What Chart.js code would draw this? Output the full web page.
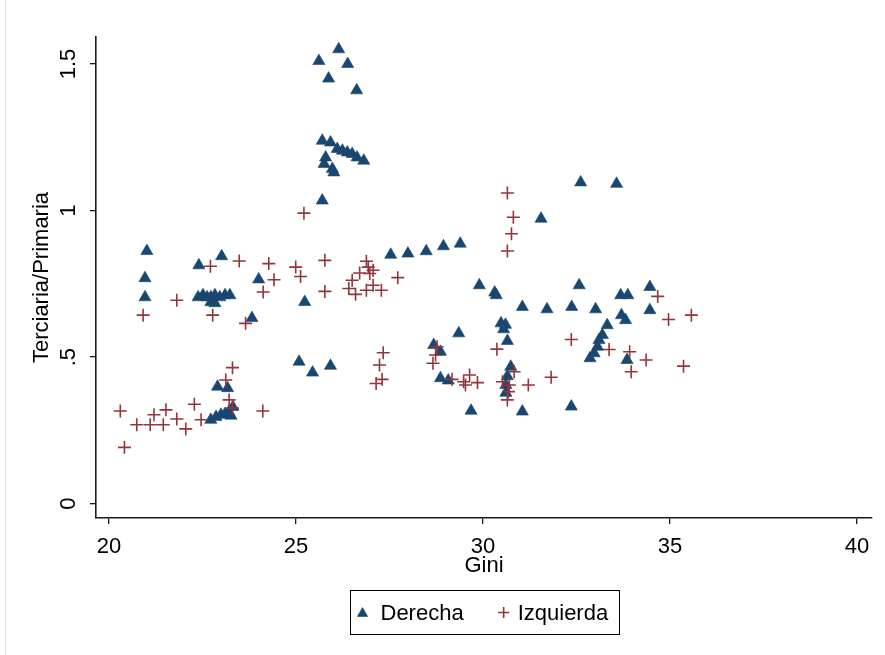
<!DOCTYPE html>
<html>
<head>
<meta charset="utf-8">
<script src="https://cdn.jsdelivr.net/npm/chart.js@4/dist/chart.umd.min.js"></script>
<style>
  html, body { margin: 0; padding: 0; background: #ffffff; }
  #wrap { width: 885px; height: 655px; position: relative; }
</style>
</head>
<body>
<div id="wrap"><canvas id="c" width="885" height="655"></canvas></div>
<script>
// Gini index vs. tertiary/primary ratio, by government orientation
const seriesNames = ['Derecha', 'Izquierda'];

const derechaGini = [
  25.61, 26.14, 26.38, 25.87, 26.62,
  25.70, 25.92, 26.10, 26.24, 26.37, 26.50, 26.63, 26.81, 25.79, 25.75, 25.97, 26.01, 25.70,
  21.01, 20.96, 20.96, 22.40, 23.01, 24.00, 23.82,
  22.38, 22.51, 22.62, 22.72, 22.83, 22.96, 23.10, 23.23, 22.72, 22.83,
  22.90, 23.17, 22.72, 22.86, 22.99, 23.10, 23.20, 23.31, 23.26,
  25.23, 25.08, 25.44, 25.92,
  27.53, 27.99, 28.48, 28.94, 29.39,
  29.90, 30.35, 30.31,
  29.35, 28.68, 28.86, 28.86, 29.07, 29.68,
  30.48, 30.60, 30.55, 30.65,
  30.74, 30.65, 30.61, 30.61, 31.05, 32.36,
  32.61, 33.57, 31.55,
  31.05, 31.71, 32.37, 33.01, 32.57,
  34.46, 33.68, 33.87, 34.46, 33.70, 33.81,
  33.32, 33.19, 33.10, 33.06, 32.97, 32.86, 33.85
];
const derechaRatio = [
  1.51, 1.55, 1.50, 1.45, 1.41,
  1.238, 1.232, 1.210, 1.204, 1.198, 1.193, 1.181, 1.170, 1.181, 1.159, 1.142, 1.130, 1.034,
  0.862, 0.769, 0.704, 0.813, 0.844, 0.765, 0.633,
  0.704, 0.711, 0.704, 0.704, 0.711, 0.704, 0.711, 0.711, 0.687, 0.684,
  0.399, 0.394, 0.286, 0.296, 0.303, 0.306, 0.313, 0.330, 0.300,
  0.688, 0.484, 0.447, 0.470,
  0.849, 0.853, 0.861, 0.878, 0.887,
  0.745, 0.711, 0.720,
  0.581, 0.541, 0.518, 0.428, 0.420, 0.317,
  0.615, 0.610, 0.595, 0.555,
  0.467, 0.435, 0.405, 0.378, 0.314, 0.331,
  1.096, 1.091, 0.972,
  0.671, 0.663, 0.671, 0.663, 0.745,
  0.739, 0.711, 0.711, 0.660, 0.643, 0.626,
  0.609, 0.575, 0.558, 0.535, 0.513, 0.496, 0.490
];

const izquierdaGini = [
  25.21,
  22.71, 23.48, 24.27, 24.41, 24.12, 21.81, 20.91, 22.77, 23.65,
  23.30, 23.12, 23.21, 23.30, 24.11, 22.28, 22.46, 20.30, 21.20, 21.52, 21.81, 22.05, 20.74, 21.10, 21.45, 20.41,
  24.99, 25.12, 25.77, 25.77,
  26.88, 26.93, 27.06, 26.97, 26.70, 26.50, 26.41, 26.59, 26.88, 27.06, 27.28, 27.72,
  27.33, 27.23, 27.30, 27.14,
  28.77, 28.73, 28.66, 29.17, 29.48, 29.64, 29.53, 29.85,
  30.65, 30.81, 30.76, 30.65,
  30.37, 30.52, 30.83, 30.70, 30.68, 30.65, 31.21, 31.82, 32.36,
  33.37, 33.92, 34.36, 33.96, 34.67, 34.96, 35.57, 35.36
];
const izquierdaRatio = [
  0.991,
  0.810, 0.828, 0.819, 0.764, 0.722, 0.694, 0.643, 0.643, 0.615,
  0.464, 0.422, 0.354, 0.326, 0.316, 0.339, 0.286, 0.316, 0.303, 0.320, 0.289, 0.255, 0.269, 0.269, 0.269, 0.192,
  0.807, 0.775, 0.830, 0.724,
  0.827, 0.807, 0.796, 0.785, 0.787, 0.762, 0.734, 0.714, 0.728, 0.745, 0.728, 0.771,
  0.515, 0.473, 0.424, 0.410,
  0.535, 0.507, 0.479, 0.424, 0.416, 0.439, 0.405, 0.413,
  1.060, 0.977, 0.921, 0.862,
  0.527, 0.416, 0.450, 0.405, 0.382, 0.354, 0.405, 0.431, 0.560,
  0.526, 0.518, 0.490, 0.450, 0.707, 0.628, 0.643, 0.469
];

const xTickValues = [20, 25, 30, 35, 40];
const yTickValues = [0, 0.5, 1, 1.5];
const yTickLabels = ['0', '.5', '1', '1.5'];

const NAVY = '#1a476f';
const MAROON = '#93353d';
const AXIS = '#1a1a1a';
const FONT = '"Liberation Sans", Arial, sans-serif';
const FS = 22;

const toPoints = (xs, ys) => xs.map((x, i) => ({ x: x, y: ys[i] }));

// white page, thin window edge on the left, and a boxed legend below the plot
const framePlugin = {
  id: 'frame',
  beforeDraw(chart) {
    const ctx = chart.ctx;
    ctx.save();
    ctx.fillStyle = '#ffffff';
    ctx.fillRect(0, 0, chart.width, chart.height);
    ctx.fillStyle = '#dbe4ec';
    ctx.fillRect(5, 0, 1, chart.height);
    ctx.restore();
  },
  afterDraw(chart) {
    const ctx = chart.ctx;
    const ca = chart.chartArea;
    const ds = chart.data.datasets;
    ctx.save();
    ctx.font = FS + 'px ' + FONT;
    const w1 = ctx.measureText(ds[0].label).width;
    const w2 = ctx.measureText(ds[1].label).width;
    const padL = 12, mk1 = 18, gap = 40, mk2 = 14, padR = 11;
    const boxW = padL + mk1 + w1 + gap + mk2 + w2 + padR;
    const boxH = 44;
    const left = Math.round((ca.left + ca.right) / 2 - boxW / 2) + 0.5;
    const top = chart.height - 65 + 0.5;
    ctx.strokeStyle = '#000000';
    ctx.lineWidth = 1;
    ctx.strokeRect(left, top, Math.round(boxW), boxH);
    const cy = top + boxH / 2;
    const drawMarker = (d, x, y) => {
      const opts = {
        pointStyle: d.pointStyle, radius: d.pointRadius * 0.85, rotation: 0,
        borderWidth: d.borderWidth
      };
      ctx.fillStyle = d.backgroundColor;
      ctx.strokeStyle = d.borderColor;
      ctx.lineWidth = d.borderWidth;
      Chart.helpers.drawPoint(ctx, opts, x, y);
    };
    const m1 = left + padL;
    drawMarker(ds[0], m1, cy + 1);
    ctx.fillStyle = '#000000';
    ctx.textBaseline = 'middle';
    ctx.textAlign = 'left';
    ctx.fillText(ds[0].label, m1 + mk1, cy + 1);
    const m2 = m1 + mk1 + w1 + gap;
    drawMarker(ds[1], m2, cy);
    ctx.fillStyle = '#000000';
    ctx.fillText(ds[1].label, m2 + mk2, cy + 1);
    ctx.restore();
  }
};

new Chart(document.getElementById('c'), {
  type: 'scatter',
  data: {
    datasets: [
      {
        label: seriesNames[0],
        data: toPoints(derechaGini, derechaRatio),
        pointStyle: 'triangle',
        pointRadius: 7,
        backgroundColor: NAVY,
        borderColor: NAVY,
        borderWidth: 0.6,
        order: 1
      },
      {
        label: seriesNames[1],
        data: toPoints(izquierdaGini, izquierdaRatio),
        pointStyle: 'cross',
        pointRadius: 6.5,
        backgroundColor: MAROON,
        borderColor: MAROON,
        borderWidth: 1.6,
        order: 0
      }
    ]
  },
  options: {
    responsive: false,
    animation: false,
    devicePixelRatio: 1,
    layout: { padding: { top: 37, right: 13, bottom: 76, left: 0 } },
    plugins: {
      legend: { display: false },
      tooltip: { enabled: false }
    },
    scales: {
      x: {
        type: 'linear',
        position: 'bottom',
        min: 19.65,
        max: 40.40,
        afterBuildTicks: (s) => { s.ticks = xTickValues.map(v => ({ value: v })); },
        afterFit: (s) => { s.height = 61; },
        ticks: {
          font: { family: FONT, size: FS },
          color: '#000000',
          padding: 10,
          maxRotation: 0,
          autoSkip: false,
          callback: (v) => String(v)
        },
        grid: { drawOnChartArea: false, drawTicks: true, tickLength: 6, color: AXIS, lineWidth: 1.3 },
        border: { display: true, color: AXIS, width: 1.6 },
        title: {
          display: true,
          text: 'Gini',
          font: { family: FONT, size: FS },
          color: '#000000',
          padding: { top: 0, bottom: 0 }
        }
      },
      y: {
        type: 'linear',
        position: 'left',
        min: -0.049,
        max: 1.592,
        afterBuildTicks: (s) => { s.ticks = yTickValues.map(v => ({ value: v })); },
        afterFit: (s) => { s.width = 96; },
        ticks: {
          font: { family: FONT, size: FS },
          color: '#000000',
          padding: 6,
          minRotation: 90,
          maxRotation: 90,
          crossAlign: 'center',
          autoSkip: false,
          callback: (v) => {
            const i = yTickValues.indexOf(v);
            return i >= 0 ? yTickLabels[i] : '';
          }
        },
        grid: { drawOnChartArea: false, drawTicks: true, tickLength: 6, color: AXIS, lineWidth: 1.3 },
        border: { display: true, color: AXIS, width: 1.6 },
        title: {
          display: true,
          text: 'Terciaria/Primaria',
          font: { family: FONT, size: FS },
          color: '#000000',
          padding: { top: 29, bottom: 0 }
        }
      }
    }
  },
  plugins: [framePlugin]
});
</script>
</body>
</html>
